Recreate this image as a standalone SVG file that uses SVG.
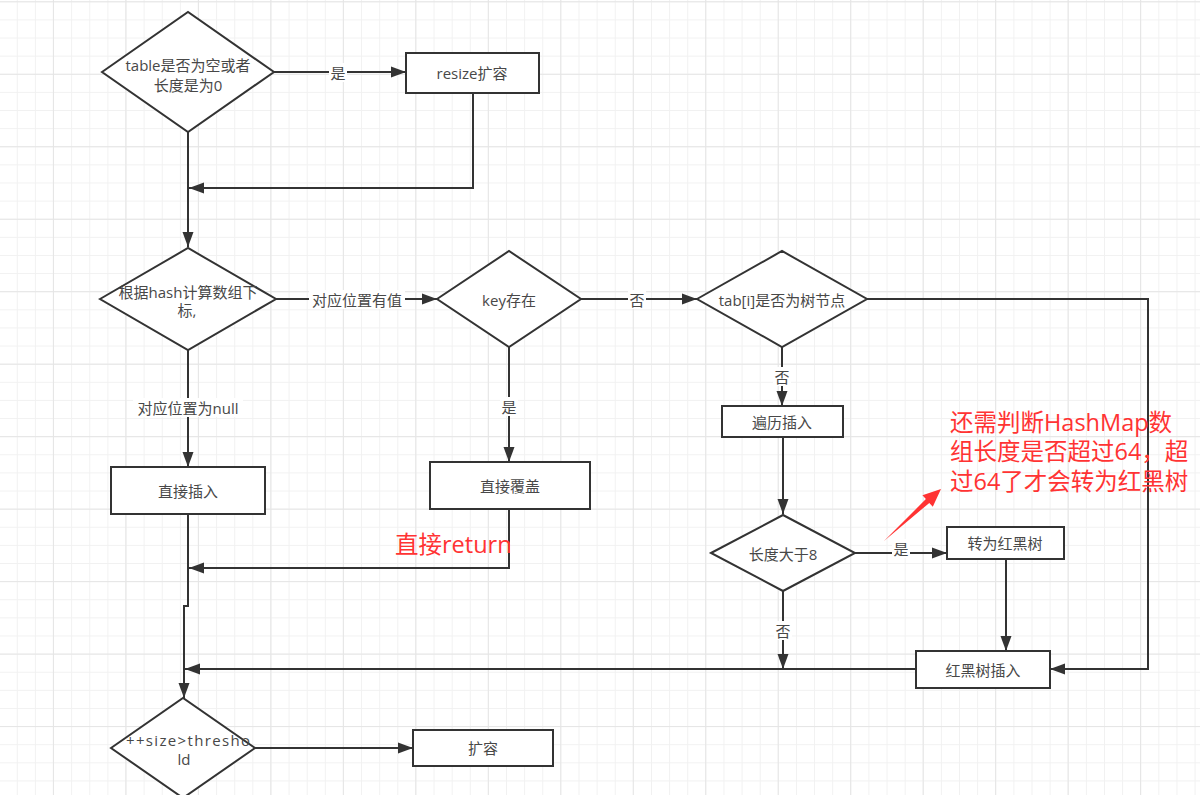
<svg xmlns="http://www.w3.org/2000/svg" width="1200" height="795" viewBox="0 0 1200 795">
<style>
.shape{fill:#fff;stroke:#333;stroke-width:2}
.edge{fill:none;stroke:#333;stroke-width:2}
.t{font-family:"Open Sans","Noto Sans CJK SC",sans-serif;font-size:15px;fill:#484848;text-anchor:middle;dominant-baseline:central}
.lbg{fill:#fff}
.red{font-family:"Open Sans","Noto Sans CJK SC",sans-serif;font-size:23.5px;fill:#ff3333;dominant-baseline:central}
</style>
<defs>
<pattern id="minor" patternUnits="userSpaceOnUse" x="16.8" y="1.3" width="18.12" height="18.12">
<path d="M0.5,0 V18.12 M0,0.5 H18.12" stroke="#f1f1f1" stroke-width="1" fill="none"/>
</pattern>
<pattern id="major" patternUnits="userSpaceOnUse" x="52.9" y="1.3" width="72.48" height="72.48">
<path d="M0.5,0 V72.48 M0,0.5 H72.48" stroke="#e5e5e5" stroke-width="1" fill="none"/>
</pattern>
<marker id="arr" markerUnits="userSpaceOnUse" markerWidth="16" markerHeight="12" refX="15" refY="6" orient="auto">
<path d="M0,0.5 L15,6 L0,11.5 z" fill="#333"/>
</marker>
</defs>
<rect width="1200" height="795" fill="#fff"/>
<rect width="1200" height="795" fill="url(#minor)"/>
<rect width="1200" height="795" fill="url(#major)"/>

<g id="connectors">
<path class="edge" d="M274,72 H406" marker-end="url(#arr)"/>
<path class="edge" d="M473,93 V188 H189" marker-end="url(#arr)"/>
<path class="edge" d="M188,132 V247" marker-end="url(#arr)"/>
<path class="edge" d="M276,299 H437" marker-end="url(#arr)"/>
<path class="edge" d="M581,299 H697" marker-end="url(#arr)"/>
<path class="edge" d="M867,299 H1148 V669 H1050" marker-end="url(#arr)"/>
<path class="edge" d="M782,347 V406" marker-end="url(#arr)"/>
<path class="edge" d="M783,437 V514" marker-end="url(#arr)"/>
<path class="edge" d="M855,553 H947" marker-end="url(#arr)"/>
<path class="edge" d="M1006,559 V651" marker-end="url(#arr)"/>
<path class="edge" d="M783,591 V669" marker-end="url(#arr)"/>
<path class="edge" d="M916,669 H185" marker-end="url(#arr)"/>
<path class="edge" d="M188,350 V467" marker-end="url(#arr)"/>
<path class="edge" d="M509,347 V462" marker-end="url(#arr)"/>
<path class="edge" d="M509,509 V568 H189" marker-end="url(#arr)"/>
<path class="edge" d="M188,514 V606 H184 V698" marker-end="url(#arr)"/>
<path class="edge" d="M255,748 H413" marker-end="url(#arr)"/>
<rect class="lbg" x="329" y="63" width="18" height="19"/>
<text class="t" x="338" y="73">是</text>
<rect class="lbg" x="309" y="290" width="96" height="19"/>
<text class="t" x="357" y="300">对应位置有值</text>
<rect class="lbg" x="628" y="290" width="18" height="19"/>
<text class="t" x="637" y="300">否</text>
<rect class="lbg" x="773" y="367" width="18" height="19"/>
<text class="t" x="782" y="377">否</text>
<rect class="lbg" x="892" y="539" width="18" height="19"/>
<text class="t" x="901" y="549">是</text>
<rect class="lbg" x="774" y="621" width="18" height="19"/>
<text class="t" x="783" y="631">否</text>
<rect class="lbg" x="133" y="398" width="110" height="19"/>
<text class="t" x="188" y="408">对应位置为null</text>
<rect class="lbg" x="500" y="397" width="18" height="19"/>
<text class="t" x="509" y="407">是</text>
</g>

<g id="n-table">
<polygon class="shape" points="102,72 188,12 274,72 188,132"/>
<text class="t" x="188" y="65">table是否为空或者</text>
<text class="t" x="188" y="85">长度是为0</text>
</g>
<g id="n-resize">
<rect class="shape" x="406" y="53" width="133" height="40"/>
<text class="t" x="472" y="73">resize扩容</text>
</g>
<g id="n-hash">
<polygon class="shape" points="100,299 188,248 276,299 188,350"/>
<text class="t" x="188" y="292">根据hash计算数组下</text>
<text class="t" x="187" y="310">标,</text>
</g>
<g id="n-key">
<polygon class="shape" points="437,299 509,251 581,299 509,347"/>
<text class="t" x="509" y="300">key存在</text>
</g>
<g id="n-tab">
<polygon class="shape" points="697,299 782,251 867,299 782,347"/>
<text class="t" x="782" y="300">tab[i]是否为树节点</text>
</g>
<g id="n-traverse">
<rect class="shape" x="722" y="406" width="121" height="31"/>
<text class="t" x="782" y="422">遍历插入</text>
</g>
<g id="n-len8">
<polygon class="shape" points="711,553 783,515 855,553 783,591"/>
<text class="t" x="783" y="554">长度大于8</text>
</g>
<g id="n-totree">
<rect class="shape" x="947" y="527" width="117" height="32"/>
<text class="t" x="1005" y="543">转为红黑树</text>
</g>
<g id="n-treeinsert">
<rect class="shape" x="916" y="651" width="134" height="37"/>
<text class="t" x="983" y="670">红黑树插入</text>
</g>
<g id="n-insert">
<rect class="shape" x="111" y="467" width="154" height="47"/>
<text class="t" x="188" y="491">直接插入</text>
</g>
<g id="n-cover">
<rect class="shape" x="430" y="462" width="160" height="47"/>
<text class="t" x="510" y="486">直接覆盖</text>
</g>
<g id="n-size">
<polygon class="shape" points="111,748 183,698 255,748 183,798"/>
<text class="t" x="188" y="740" textLength="124" lengthAdjust="spacing">++size&gt;thresho</text>
<text class="t" x="184" y="759">ld</text>
</g>
<g id="n-expand">
<rect class="shape" x="413" y="730" width="140" height="36"/>
<text class="t" x="483" y="748">扩容</text>
</g>

<g id="annotations">
<text class="red" x="395" y="544">直接return</text>
<text class="red" x="950" y="422">还需判断HashMap数</text>
<text class="red" x="950" y="451">组长度是否超过64，超</text>
<text class="red" x="950" y="481">过64了才会转为红黑树</text>
<polygon points="884,541 929.3,502.9 932.8,506.7 941,489 922.4,495.3 925.9,499.1" fill="#ff3333"/>
</g>
</svg>
